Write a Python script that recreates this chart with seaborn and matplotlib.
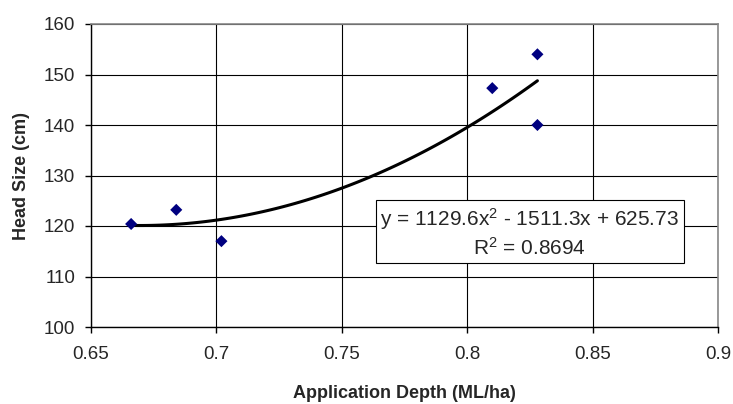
import matplotlib
matplotlib.use("Agg")
import matplotlib.pyplot as plt
import seaborn as sns
import pandas as pd

depth = [0.666, 0.684, 0.702, 0.810, 0.828, 0.828]
head_size = [120.4, 123.2, 117.0, 147.3, 154.0, 140.0]
equation_text = "y = 1129.6x$^2$ - 1511.3x + 625.73\nR$^2$ = 0.8694"
x_ticks = [0.65, 0.7, 0.75, 0.8, 0.85, 0.9]
y_ticks = [100, 110, 120, 130, 140, 150, 160]

df = pd.DataFrame({"depth": depth, "head": head_size})

sns.set_style("white")
plt.rcParams['font.family'] = ['Liberation Sans', 'DejaVu Sans']
plt.rcParams['mathtext.fontset'] = 'custom'
plt.rcParams['mathtext.rm'] = 'Liberation Sans'
plt.rcParams['mathtext.it'] = 'Liberation Sans'

fig = plt.figure(figsize=(7.33, 4.04), dpi=100)
ax = fig.add_axes([91/733, 1 - 327/404, (718-91)/733, (327-24)/404])

sns.regplot(data=df, x="depth", y="head", order=2, ci=None, truncate=True, ax=ax,
            marker="D",
            scatter_kws=dict(color="#000080", s=38, edgecolors="none", alpha=1, zorder=3),
            line_kws=dict(color="black", lw=2.2, zorder=2))

ax.set_xlim(0.65, 0.9)
ax.set_ylim(100, 160)
ax.set_xticks(x_ticks)
ax.set_xticklabels([f"{t:g}" for t in x_ticks])
ax.set_yticks(y_ticks)
ax.grid(True, color="black", lw=0.8)
ax.set_axisbelow(True)
for s in ["top", "right"]:
    ax.spines[s].set_color("#888888")
    ax.spines[s].set_linewidth(1.2)
for s in ["left", "bottom"]:
    ax.spines[s].set_color("black")
    ax.spines[s].set_linewidth(1.0)
ax.tick_params(axis="both", direction="out", length=4.5, width=1, color="black",
               labelsize=13.5, bottom=True, left=True)
ax.tick_params(axis="x", pad=9)
ax.tick_params(axis="y", pad=7)
ax.set_xlabel("Application Depth (ML/ha)", fontsize=13, fontweight="bold", labelpad=16)
ax.set_ylabel("Head Size (cm)", fontsize=13, fontweight="bold", labelpad=10)

ax.text(0.825, 118.7, equation_text, ha="center", va="center", fontsize=15,
        linespacing=1.3,
        bbox=dict(boxstyle="square,pad=0.2", facecolor="white", edgecolor="black", lw=0.8),
        zorder=4)

fig.savefig("out.png", dpi=100)
